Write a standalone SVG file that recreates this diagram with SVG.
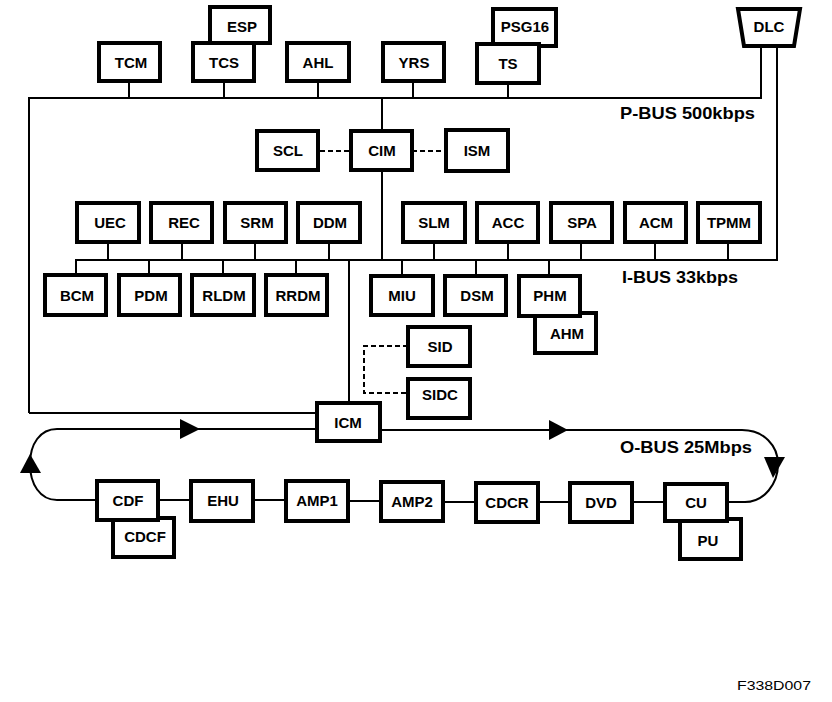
<svg xmlns="http://www.w3.org/2000/svg" width="832" height="702" viewBox="0 0 832 702">
<style>
.b{fill:#fff;stroke:#000;stroke-width:4}
.t{font-family:"Liberation Sans",Arial,sans-serif;font-weight:bold;font-size:15px;text-anchor:middle;fill:#000}
.bus{font-family:"Liberation Sans",Arial,sans-serif;font-weight:bold;font-size:17px;fill:#000}
.c{fill:none;stroke:#000;stroke-width:2}
.d{fill:none;stroke:#000;stroke-width:2;stroke-dasharray:5,3}
.a{fill:#000;stroke:none}
</style>
<rect width="832" height="702" fill="#fff"/>
<g id="connectors">
<path class="c" d="M29 413 V98 H761 V48"/>
<path class="c" d="M129 83 V98 M224 83 V98 M318 83 V98 M413 83 V98 M508 85 V98"/>
<path class="c" d="M382 98 V131 M382 172 V260"/>
<path class="c" d="M777 48 V260 H76 V275"/>
<path class="c" d="M108 244 V260 M182 244 V260 M255 244 V260 M329 244 V260 M434 244 V260 M508 244 V260 M581 244 V260 M655 244 V260 M728 244 V260"/>
<path class="c" d="M149 260 V275 M223 260 V275 M296 260 V275 M402 260 V276 M476 260 V276 M549 260 V276"/>
<path class="c" d="M349 260 V403"/>
<path class="c" d="M29 413 H317"/>
<path class="d" d="M320 151 H351 M412 151 H446"/>
<path class="d" d="M408 346 H364 V393 H408"/>
<path class="c" d="M97 500 H57 C40 500 30 484 30 464 C30 444 40 429 57 429 H317"/>
<path class="c" d="M380 430 H742 C764 430 778 446 778 464 C778 484 764 502 745 502 H729"/>
<path class="c" d="M160 500 H191 M255 500 H286 M350 501 H381 M445 502 H476 M540 502 H570 M634 502 H665"/>
<polygon class="a" points="30,454 20,473 41,473"/>
<polygon class="a" points="200,429 180,419 180,439"/>
<polygon class="a" points="568,430 549,420 549,440"/>
<polygon class="a" points="773,478 764,457 785,457"/>
</g>
<g id="ESP"><rect class="b" x="210" y="7" width="60" height="36"/><text class="t" x="242" y="32">ESP</text></g>
<g id="TCM"><rect class="b" x="99" y="43" width="61" height="38"/><text class="t" x="131" y="68">TCM</text></g>
<g id="TCS"><rect class="b" x="193" y="43" width="61" height="38"/><text class="t" x="224" y="68">TCS</text></g>
<g id="AHL"><rect class="b" x="287" y="43" width="62" height="38"/><text class="t" x="318" y="68">AHL</text></g>
<g id="YRS"><rect class="b" x="383" y="43" width="61" height="38"/><text class="t" x="414" y="68">YRS</text></g>
<g id="PSG16"><rect class="b" x="493" y="9" width="63" height="37"/><text class="t" x="525" y="32">PSG16</text></g>
<g id="TS"><rect class="b" x="477" y="44" width="62" height="39"/><text class="t" x="508" y="69">TS</text></g>
<g id="DLC"><polygon class="b" points="738,9 800,9 794,46 744,46"/><text class="t" x="769" y="32">DLC</text></g>
<g id="SCL"><rect class="b" x="257" y="131" width="61" height="39"/><text class="t" x="288" y="156">SCL</text></g>
<g id="CIM"><rect class="b" x="351" y="131" width="61" height="39"/><text class="t" x="382" y="156">CIM</text></g>
<g id="ISM"><rect class="b" x="446" y="130" width="62" height="41"/><text class="t" x="477" y="156">ISM</text></g>
<g id="UEC"><rect class="b" x="77" y="203" width="62" height="39"/><text class="t" x="110" y="228">UEC</text></g>
<g id="REC"><rect class="b" x="151" y="203" width="61" height="39"/><text class="t" x="184" y="228">REC</text></g>
<g id="SRM"><rect class="b" x="225" y="203" width="61" height="39"/><text class="t" x="257" y="228">SRM</text></g>
<g id="DDM"><rect class="b" x="298" y="203" width="62" height="39"/><text class="t" x="330" y="228">DDM</text></g>
<g id="SLM"><rect class="b" x="403" y="203" width="62" height="39"/><text class="t" x="434" y="228">SLM</text></g>
<g id="ACC"><rect class="b" x="477" y="203" width="61" height="39"/><text class="t" x="508" y="228">ACC</text></g>
<g id="SPA"><rect class="b" x="551" y="203" width="61" height="39"/><text class="t" x="582" y="228">SPA</text></g>
<g id="ACM"><rect class="b" x="625" y="203" width="61" height="39"/><text class="t" x="656" y="228">ACM</text></g>
<g id="TPMM"><rect class="b" x="698" y="203" width="62" height="39"/><text class="t" x="729" y="228">TPMM</text></g>
<g id="BCM"><rect class="b" x="45" y="275" width="61" height="40"/><text class="t" x="77" y="301">BCM</text></g>
<g id="PDM"><rect class="b" x="119" y="275" width="61" height="40"/><text class="t" x="151" y="301">PDM</text></g>
<g id="RLDM"><rect class="b" x="192" y="275" width="62" height="40"/><text class="t" x="224" y="301">RLDM</text></g>
<g id="RRDM"><rect class="b" x="266" y="275" width="61" height="40"/><text class="t" x="298" y="301">RRDM</text></g>
<g id="MIU"><rect class="b" x="371" y="276" width="62" height="39"/><text class="t" x="402" y="301">MIU</text></g>
<g id="DSM"><rect class="b" x="445" y="276" width="61" height="39"/><text class="t" x="477" y="301">DSM</text></g>
<g id="AHM"><rect class="b" x="535" y="313" width="61" height="40"/><text class="t" x="567" y="339">AHM</text></g>
<g id="PHM"><rect class="b" x="519" y="276" width="61" height="40"/><text class="t" x="550" y="301">PHM</text></g>
<g id="SID"><rect class="b" x="408" y="327" width="62" height="39"/><text class="t" x="440" y="352">SID</text></g>
<g id="SIDC"><rect class="b" x="408" y="379" width="62" height="39"/><text class="t" x="440" y="400">SIDC</text></g>
<g id="ICM"><rect class="b" x="317" y="403" width="63" height="38"/><text class="t" x="348" y="428">ICM</text></g>
<g id="CDCF"><rect class="b" x="113" y="518" width="61" height="39"/><text class="t" x="145" y="542">CDCF</text></g>
<g id="CDF"><rect class="b" x="97" y="481" width="61" height="39"/><text class="t" x="128" y="506">CDF</text></g>
<g id="EHU"><rect class="b" x="191" y="481" width="62" height="40"/><text class="t" x="223" y="506">EHU</text></g>
<g id="AMP1"><rect class="b" x="286" y="481" width="62" height="40"/><text class="t" x="317" y="506">AMP1</text></g>
<g id="AMP2"><rect class="b" x="381" y="482" width="62" height="39"/><text class="t" x="412" y="507">AMP2</text></g>
<g id="CDCR"><rect class="b" x="476" y="483" width="62" height="39"/><text class="t" x="507" y="508">CDCR</text></g>
<g id="DVD"><rect class="b" x="570" y="483" width="62" height="39"/><text class="t" x="601" y="508">DVD</text></g>
<g id="PU"><rect class="b" x="680" y="519" width="61" height="40"/><text class="t" x="708" y="546">PU</text></g>
<g id="CU"><rect class="b" x="665" y="484" width="62" height="37"/><text class="t" x="696" y="508">CU</text></g>
<text class="bus" x="620" y="119" textLength="135" lengthAdjust="spacingAndGlyphs">P-BUS 500kbps</text>
<text class="bus" x="622" y="283" textLength="116" lengthAdjust="spacingAndGlyphs">I-BUS 33kbps</text>
<text class="bus" x="620" y="453" textLength="132" lengthAdjust="spacingAndGlyphs">O-BUS 25Mbps</text>
<text x="737" y="690" font-family="'Liberation Sans',Arial,sans-serif" font-size="12" textLength="74" lengthAdjust="spacingAndGlyphs">F338D007</text>
</svg>
